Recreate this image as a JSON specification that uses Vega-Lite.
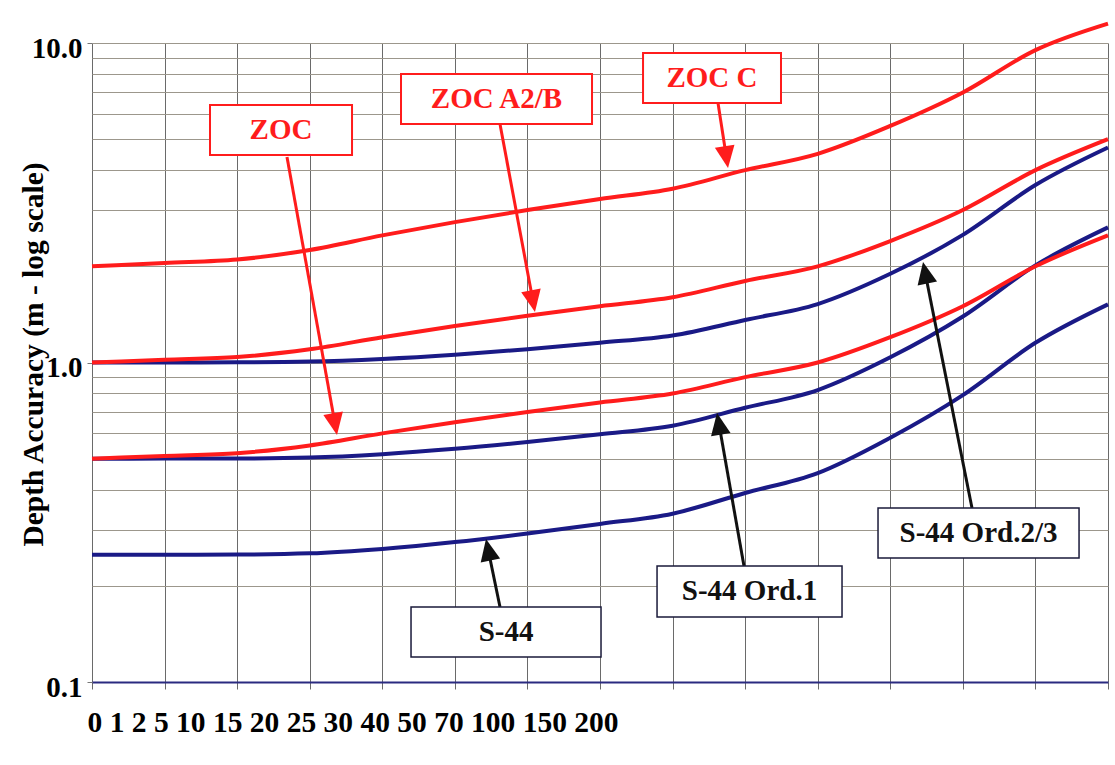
{
  "$schema": "https://vega.github.io/schema/vega-lite/v6.json",
  "width": 1016,
  "height": 639,
  "autosize": {"type": "none"},
  "padding": {"left": 92, "top": 43, "right": 7, "bottom": 83},
  "background": "white",
  "config": {"view": {"stroke": null}, "font": "Liberation Serif"},
  "datasets": {
    "series": [
      {"series": "S-44", "family": "S-44", "depth": 0, "i": 0, "v": 0.25},
      {"series": "S-44", "family": "S-44", "depth": 1, "i": 1, "v": 0.2501},
      {"series": "S-44", "family": "S-44", "depth": 2, "i": 2, "v": 0.2505},
      {"series": "S-44", "family": "S-44", "depth": 5, "i": 3, "v": 0.2528},
      {"series": "S-44", "family": "S-44", "depth": 10, "i": 4, "v": 0.261},
      {"series": "S-44", "family": "S-44", "depth": 15, "i": 5, "v": 0.2741},
      {"series": "S-44", "family": "S-44", "depth": 20, "i": 6, "v": 0.2916},
      {"series": "S-44", "family": "S-44", "depth": 25, "i": 7, "v": 0.3125},
      {"series": "S-44", "family": "S-44", "depth": 30, "i": 8, "v": 0.3363},
      {"series": "S-44", "family": "S-44", "depth": 40, "i": 9, "v": 0.3905},
      {"series": "S-44", "family": "S-44", "depth": 50, "i": 10, "v": 0.4507},
      {"series": "S-44", "family": "S-44", "depth": 70, "i": 11, "v": 0.5815},
      {"series": "S-44", "family": "S-44", "depth": 100, "i": 12, "v": 0.7906},
      {"series": "S-44", "family": "S-44", "depth": 150, "i": 13, "v": 1.1524},
      {"series": "S-44", "family": "S-44", "depth": 200, "i": 14, "v": 1.5207},
      {"series": "S-44 Ord.1", "family": "S-44", "depth": 0, "i": 0, "v": 0.5},
      {"series": "S-44 Ord.1", "family": "S-44", "depth": 1, "i": 1, "v": 0.5002},
      {"series": "S-44 Ord.1", "family": "S-44", "depth": 2, "i": 2, "v": 0.5007},
      {"series": "S-44 Ord.1", "family": "S-44", "depth": 5, "i": 3, "v": 0.5042},
      {"series": "S-44 Ord.1", "family": "S-44", "depth": 10, "i": 4, "v": 0.5166},
      {"series": "S-44 Ord.1", "family": "S-44", "depth": 15, "i": 5, "v": 0.5367},
      {"series": "S-44 Ord.1", "family": "S-44", "depth": 20, "i": 6, "v": 0.5636},
      {"series": "S-44 Ord.1", "family": "S-44", "depth": 25, "i": 7, "v": 0.5963},
      {"series": "S-44 Ord.1", "family": "S-44", "depth": 30, "i": 8, "v": 0.6341},
      {"series": "S-44 Ord.1", "family": "S-44", "depth": 40, "i": 9, "v": 0.7214},
      {"series": "S-44 Ord.1", "family": "S-44", "depth": 50, "i": 10, "v": 0.8201},
      {"series": "S-44 Ord.1", "family": "S-44", "depth": 70, "i": 11, "v": 1.0383},
      {"series": "S-44 Ord.1", "family": "S-44", "depth": 100, "i": 12, "v": 1.3928},
      {"series": "S-44 Ord.1", "family": "S-44", "depth": 150, "i": 13, "v": 2.0131},
      {"series": "S-44 Ord.1", "family": "S-44", "depth": 200, "i": 14, "v": 2.6476},
      {"series": "S-44 Ord.2/3", "family": "S-44", "depth": 0, "i": 0, "v": 1.0},
      {"series": "S-44 Ord.2/3", "family": "S-44", "depth": 1, "i": 1, "v": 1.0003},
      {"series": "S-44 Ord.2/3", "family": "S-44", "depth": 2, "i": 2, "v": 1.0011},
      {"series": "S-44 Ord.2/3", "family": "S-44", "depth": 5, "i": 3, "v": 1.0066},
      {"series": "S-44 Ord.2/3", "family": "S-44", "depth": 10, "i": 4, "v": 1.0261},
      {"series": "S-44 Ord.2/3", "family": "S-44", "depth": 15, "i": 5, "v": 1.0578},
      {"series": "S-44 Ord.2/3", "family": "S-44", "depth": 20, "i": 6, "v": 1.1007},
      {"series": "S-44 Ord.2/3", "family": "S-44", "depth": 25, "i": 7, "v": 1.1535},
      {"series": "S-44 Ord.2/3", "family": "S-44", "depth": 30, "i": 8, "v": 1.215},
      {"series": "S-44 Ord.2/3", "family": "S-44", "depth": 40, "i": 9, "v": 1.3588},
      {"series": "S-44 Ord.2/3", "family": "S-44", "depth": 50, "i": 10, "v": 1.524},
      {"series": "S-44 Ord.2/3", "family": "S-44", "depth": 70, "i": 11, "v": 1.8953},
      {"series": "S-44 Ord.2/3", "family": "S-44", "depth": 100, "i": 12, "v": 2.508},
      {"series": "S-44 Ord.2/3", "family": "S-44", "depth": 150, "i": 13, "v": 3.592},
      {"series": "S-44 Ord.2/3", "family": "S-44", "depth": 200, "i": 14, "v": 4.7074},
      {"series": "ZOC", "family": "ZOC", "depth": 0, "i": 0, "v": 0.5},
      {"series": "ZOC", "family": "ZOC", "depth": 1, "i": 1, "v": 0.51},
      {"series": "ZOC", "family": "ZOC", "depth": 2, "i": 2, "v": 0.52},
      {"series": "ZOC", "family": "ZOC", "depth": 5, "i": 3, "v": 0.55},
      {"series": "ZOC", "family": "ZOC", "depth": 10, "i": 4, "v": 0.6},
      {"series": "ZOC", "family": "ZOC", "depth": 15, "i": 5, "v": 0.65},
      {"series": "ZOC", "family": "ZOC", "depth": 20, "i": 6, "v": 0.7},
      {"series": "ZOC", "family": "ZOC", "depth": 25, "i": 7, "v": 0.75},
      {"series": "ZOC", "family": "ZOC", "depth": 30, "i": 8, "v": 0.8},
      {"series": "ZOC", "family": "ZOC", "depth": 40, "i": 9, "v": 0.9},
      {"series": "ZOC", "family": "ZOC", "depth": 50, "i": 10, "v": 1.0},
      {"series": "ZOC", "family": "ZOC", "depth": 70, "i": 11, "v": 1.2},
      {"series": "ZOC", "family": "ZOC", "depth": 100, "i": 12, "v": 1.5},
      {"series": "ZOC", "family": "ZOC", "depth": 150, "i": 13, "v": 2.0},
      {"series": "ZOC", "family": "ZOC", "depth": 200, "i": 14, "v": 2.5},
      {"series": "ZOC A2/B", "family": "ZOC", "depth": 0, "i": 0, "v": 1.0},
      {"series": "ZOC A2/B", "family": "ZOC", "depth": 1, "i": 1, "v": 1.02},
      {"series": "ZOC A2/B", "family": "ZOC", "depth": 2, "i": 2, "v": 1.04},
      {"series": "ZOC A2/B", "family": "ZOC", "depth": 5, "i": 3, "v": 1.1},
      {"series": "ZOC A2/B", "family": "ZOC", "depth": 10, "i": 4, "v": 1.2},
      {"series": "ZOC A2/B", "family": "ZOC", "depth": 15, "i": 5, "v": 1.3},
      {"series": "ZOC A2/B", "family": "ZOC", "depth": 20, "i": 6, "v": 1.4},
      {"series": "ZOC A2/B", "family": "ZOC", "depth": 25, "i": 7, "v": 1.5},
      {"series": "ZOC A2/B", "family": "ZOC", "depth": 30, "i": 8, "v": 1.6},
      {"series": "ZOC A2/B", "family": "ZOC", "depth": 40, "i": 9, "v": 1.8},
      {"series": "ZOC A2/B", "family": "ZOC", "depth": 50, "i": 10, "v": 2.0},
      {"series": "ZOC A2/B", "family": "ZOC", "depth": 70, "i": 11, "v": 2.4},
      {"series": "ZOC A2/B", "family": "ZOC", "depth": 100, "i": 12, "v": 3.0},
      {"series": "ZOC A2/B", "family": "ZOC", "depth": 150, "i": 13, "v": 4.0},
      {"series": "ZOC A2/B", "family": "ZOC", "depth": 200, "i": 14, "v": 5.0},
      {"series": "ZOC C", "family": "ZOC", "depth": 0, "i": 0, "v": 2.0},
      {"series": "ZOC C", "family": "ZOC", "depth": 1, "i": 1, "v": 2.05},
      {"series": "ZOC C", "family": "ZOC", "depth": 2, "i": 2, "v": 2.1},
      {"series": "ZOC C", "family": "ZOC", "depth": 5, "i": 3, "v": 2.25},
      {"series": "ZOC C", "family": "ZOC", "depth": 10, "i": 4, "v": 2.5},
      {"series": "ZOC C", "family": "ZOC", "depth": 15, "i": 5, "v": 2.75},
      {"series": "ZOC C", "family": "ZOC", "depth": 20, "i": 6, "v": 3.0},
      {"series": "ZOC C", "family": "ZOC", "depth": 25, "i": 7, "v": 3.25},
      {"series": "ZOC C", "family": "ZOC", "depth": 30, "i": 8, "v": 3.5},
      {"series": "ZOC C", "family": "ZOC", "depth": 40, "i": 9, "v": 4.0},
      {"series": "ZOC C", "family": "ZOC", "depth": 50, "i": 10, "v": 4.5},
      {"series": "ZOC C", "family": "ZOC", "depth": 70, "i": 11, "v": 5.5},
      {"series": "ZOC C", "family": "ZOC", "depth": 100, "i": 12, "v": 7.0},
      {"series": "ZOC C", "family": "ZOC", "depth": 150, "i": 13, "v": 9.5},
      {"series": "ZOC C", "family": "ZOC", "depth": 200, "i": 14, "v": 11.5}
    ],
    "boxes": [
      {"name": "ZOC", "family": "ZOC", "i": 1.626, "i2": 3.583, "v": 6.4, "v2": 4.46, "ti": 2.604, "tv": 5.34},
      {"name": "ZOC A2/B", "family": "ZOC", "i": 4.258, "i2": 6.89, "v": 8.0, "v2": 5.58, "ti": 5.574, "tv": 6.68},
      {"name": "ZOC C", "family": "ZOC", "i": 7.593, "i2": 9.494, "v": 9.3, "v2": 6.49, "ti": 8.543, "tv": 7.77},
      {"name": "S-44", "family": "S-44", "i": 4.396, "i2": 7.014, "v": 0.1717, "v2": 0.1197, "ti": 5.705, "tv": 0.1434},
      {"name": "S-44 Ord.1", "family": "S-44", "i": 7.786, "i2": 10.335, "v": 0.2307, "v2": 0.1597, "ti": 9.06, "tv": 0.192},
      {"name": "S-44 Ord.2/3", "family": "S-44", "i": 10.831, "i2": 13.601, "v": 0.3504, "v2": 0.2444, "ti": 12.216, "tv": 0.2927}
    ],
    "arrows": [
      {"name": "ZOC", "family": "ZOC", "i": 2.687, "v": 4.398, "i2": 3.347, "v2": 0.6457, "ti": 3.376, "tv": 0.5932},
      {"name": "ZOC A2/B", "family": "ZOC", "i": 5.622, "v": 5.58, "i2": 6.074, "v2": 1.567, "ti": 6.104, "tv": 1.439},
      {"name": "ZOC C", "family": "ZOC", "i": 8.626, "v": 6.49, "i2": 8.739, "v2": 4.426, "ti": 8.764, "tv": 4.063},
      {"name": "S-44", "family": "S-44", "i": 5.622, "v": 0.1717, "i2": 5.462, "v2": 0.2574, "ti": 5.429, "tv": 0.2803},
      {"name": "S-44 Ord.1", "family": "S-44", "i": 8.984, "v": 0.2307, "i2": 8.641, "v2": 0.6383, "ti": 8.612, "tv": 0.6951},
      {"name": "S-44 Ord.2/3", "family": "S-44", "i": 12.126, "v": 0.3504, "i2": 11.483, "v2": 1.895, "ti": 11.451, "tv": 2.064}
    ]
  },
  "layer": [
    {
      "data": {"name": "series"},
      "transform": [{"filter": "datum.family === 'S-44'"}],
      "mark": {"type": "line", "color": "#1a1a86", "strokeWidth": 4, "interpolate": "monotone"},
      "encoding": {
        "x": {
          "field": "i", "type": "quantitative",
          "scale": {"domain": [0, 14], "nice": false, "zero": false},
          "axis": {
            "values": [0, 1, 2, 3, 4, 5, 6, 7, 8, 9, 10, 11, 12, 13, 14],
            "labels": false,
            "grid": true, "gridColor": "#6a6a6a", "gridWidth": 1,
            "ticks": true, "tickSize": 7, "tickColor": "#6a6a6a",
            "domain": true, "domainColor": "#2a2a80", "domainWidth": 2,
            "title": "0 1 2 5 10 15 20 25 30 40 50 70 100 150 200",
            "titleFont": "Liberation Serif", "titleFontSize": 29.5, "titleFontWeight": "bold", "titleColor": "#000",
            "titleAnchor": "start", "titleAlign": "left", "titleBaseline": "alphabetic",
            "titleX": -5, "titleY": 49
          }
        },
        "y": {
          "field": "v", "type": "quantitative",
          "scale": {"type": "log", "domain": [0.1, 10], "nice": false},
          "axis": {
            "values": [0.1, 0.2, 0.3, 0.4, 0.5, 0.6, 0.7, 0.8, 0.9, 1, 2, 3, 4, 5, 6, 7, 8, 9, 10],
            "labelExpr": "datum.value === 0.1 || datum.value === 1 || datum.value === 10 ? format(datum.value, '.1f') : ''",
            "labelFont": "Liberation Serif", "labelFontSize": 29, "labelFontWeight": "bold", "labelColor": "#000",
            "labelBaseline": "alphabetic", "labelOffset": 14, "labelPadding": 5,
            "grid": true, "gridColor": "#9c978c", "gridWidth": 1,
            "ticks": true, "tickSize": 5, "tickColor": "#777",
            "tickOpacity": {"condition": {"test": "datum.value === 0.1 || datum.value === 1 || datum.value === 10", "value": 1}, "value": 0},
            "domain": false,
            "title": "Depth Accuracy (m - log scale)",
            "titleFont": "Liberation Serif", "titleFontSize": 29.5, "titleFontWeight": "bold", "titleColor": "#000",
            "titleAlign": "center", "titleBaseline": "alphabetic", "titleAngle": 270,
            "titleX": -50, "titleY": 311
          }
        },
        "detail": {"field": "series"}
      }
    },
    {
      "data": {"name": "series"},
      "transform": [{"filter": "datum.family === 'ZOC'"}],
      "mark": {"type": "line", "color": "#ff1c1c", "strokeWidth": 4, "interpolate": "monotone"},
      "encoding": {
        "x": {"field": "i", "type": "quantitative"},
        "y": {"field": "v", "type": "quantitative"},
        "detail": {"field": "series"}
      }
    },
    {
      "data": {"name": "arrows"},
      "transform": [{"filter": "datum.family === 'ZOC'"}],
      "mark": {"type": "rule", "color": "#ff1c1c", "strokeWidth": 3},
      "encoding": {
        "x": {"field": "i", "type": "quantitative"},
        "y": {"field": "v", "type": "quantitative"},
        "x2": {"field": "i2"},
        "y2": {"field": "v2"}
      }
    },
    {
      "data": {"name": "arrows"},
      "transform": [{"filter": "datum.family === 'S-44'"}],
      "mark": {"type": "rule", "color": "#111111", "strokeWidth": 3},
      "encoding": {
        "x": {"field": "i", "type": "quantitative"},
        "y": {"field": "v", "type": "quantitative"},
        "x2": {"field": "i2"},
        "y2": {"field": "v2"}
      }
    },
    {
      "data": {"name": "arrows"},
      "transform": [{"filter": "datum.name === 'ZOC'"}],
      "mark": {"type": "point", "shape": "M0,0L-0.45,-1L0.45,-1Z", "size": 1936, "filled": true, "opacity": 1, "color": "#ff1c1c", "angle": 349.8},
      "encoding": {"x": {"field": "ti", "type": "quantitative"}, "y": {"field": "tv", "type": "quantitative"}}
    },
    {
      "data": {"name": "arrows"},
      "transform": [{"filter": "datum.name === 'ZOC A2/B'"}],
      "mark": {"type": "point", "shape": "M0,0L-0.45,-1L0.45,-1Z", "size": 1936, "filled": true, "opacity": 1, "color": "#ff1c1c", "angle": 349.5},
      "encoding": {"x": {"field": "ti", "type": "quantitative"}, "y": {"field": "tv", "type": "quantitative"}}
    },
    {
      "data": {"name": "arrows"},
      "transform": [{"filter": "datum.name === 'ZOC C'"}],
      "mark": {"type": "point", "shape": "M0,0L-0.45,-1L0.45,-1Z", "size": 1936, "filled": true, "opacity": 1, "color": "#ff1c1c", "angle": 351.3},
      "encoding": {"x": {"field": "ti", "type": "quantitative"}, "y": {"field": "tv", "type": "quantitative"}}
    },
    {
      "data": {"name": "arrows"},
      "transform": [{"filter": "datum.name === 'S-44'"}],
      "mark": {"type": "point", "shape": "M0,0L-0.45,-1L0.45,-1Z", "size": 1936, "filled": true, "opacity": 1, "color": "#111111", "angle": 168.4},
      "encoding": {"x": {"field": "ti", "type": "quantitative"}, "y": {"field": "tv", "type": "quantitative"}}
    },
    {
      "data": {"name": "arrows"},
      "transform": [{"filter": "datum.name === 'S-44 Ord.1'"}],
      "mark": {"type": "point", "shape": "M0,0L-0.45,-1L0.45,-1Z", "size": 1936, "filled": true, "opacity": 1, "color": "#111111", "angle": 170},
      "encoding": {"x": {"field": "ti", "type": "quantitative"}, "y": {"field": "tv", "type": "quantitative"}}
    },
    {
      "data": {"name": "arrows"},
      "transform": [{"filter": "datum.name === 'S-44 Ord.2/3'"}],
      "mark": {"type": "point", "shape": "M0,0L-0.45,-1L0.45,-1Z", "size": 1936, "filled": true, "opacity": 1, "color": "#111111", "angle": 168.7},
      "encoding": {"x": {"field": "ti", "type": "quantitative"}, "y": {"field": "tv", "type": "quantitative"}}
    },
    {
      "data": {"name": "boxes"},
      "transform": [{"filter": "datum.family === 'ZOC'"}],
      "mark": {"type": "rect", "fill": "#ffffff", "stroke": "#ff1c1c", "strokeWidth": 2},
      "encoding": {
        "x": {"field": "i", "type": "quantitative"},
        "x2": {"field": "i2"},
        "y": {"field": "v", "type": "quantitative"},
        "y2": {"field": "v2"}
      }
    },
    {
      "data": {"name": "boxes"},
      "transform": [{"filter": "datum.family === 'S-44'"}],
      "mark": {"type": "rect", "fill": "#ffffff", "stroke": "#1a1a3a", "strokeWidth": 1.5},
      "encoding": {
        "x": {"field": "i", "type": "quantitative"},
        "x2": {"field": "i2"},
        "y": {"field": "v", "type": "quantitative"},
        "y2": {"field": "v2"}
      }
    },
    {
      "data": {"name": "boxes"},
      "transform": [{"filter": "datum.family === 'ZOC'"}],
      "mark": {"type": "text", "font": "Liberation Serif", "fontSize": 29, "fontWeight": "bold", "color": "#ff1c1c", "align": "center", "baseline": "middle"},
      "encoding": {
        "x": {"field": "ti", "type": "quantitative"},
        "y": {"field": "tv", "type": "quantitative"},
        "text": {"field": "name"}
      }
    },
    {
      "data": {"name": "boxes"},
      "transform": [{"filter": "datum.family === 'S-44'"}],
      "mark": {"type": "text", "font": "Liberation Serif", "fontSize": 29, "fontWeight": "bold", "color": "#111111", "align": "center", "baseline": "middle"},
      "encoding": {
        "x": {"field": "ti", "type": "quantitative"},
        "y": {"field": "tv", "type": "quantitative"},
        "text": {"field": "name"}
      }
    }
  ]
}
